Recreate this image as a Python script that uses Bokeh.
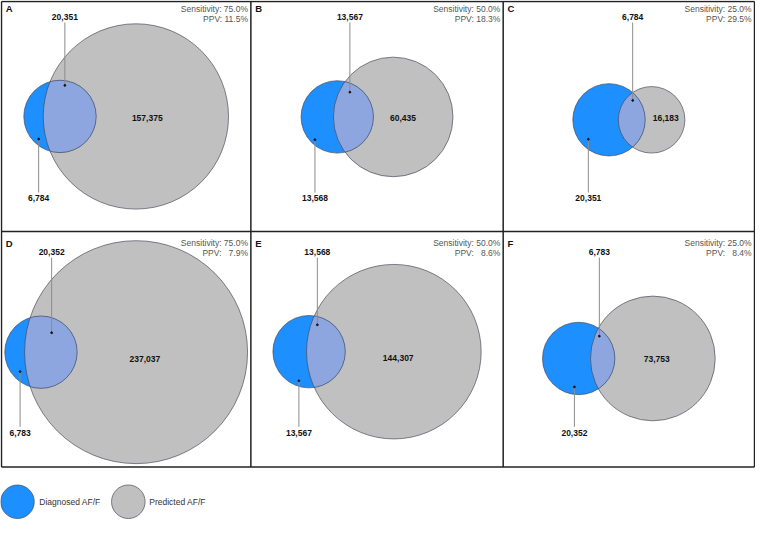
import numpy as np
from bokeh.plotting import figure
from bokeh.models import Range1d
from bokeh.core.properties import value
from bokeh.embed import file_html
from bokeh.resources import INLINE

# ---------------- data ----------------
panels = ["A", "B", "C", "D", "E", "F"]
sensitivity = ["75.0%", "50.0%", "25.0%", "75.0%", "50.0%", "25.0%"]
ppv = ["11.5%", "18.3%", "29.5%", "7.9%", "8.6%", "8.4%"]
diagnosed_only = [6784, 13568, 20351, 6783, 13567, 20352]
both = [20351, 13567, 6784, 20352, 13568, 6783]
predicted_only = [157375, 60435, 16183, 237037, 144307, 73753]
legend_labels = ["Diagnosed AF/F", "Predicted AF/F"]

# ---------------- style / layout ----------------
BLUE = "#1E8FFF"
GRAY = "#C0C0C0"
OVER = "#8EA6DF"
EDGE = "#3E4250"
FONT = value("Liberation Sans")
FS = "8.5px"

col_x = [1, 258, 518, 777]
row_y = [1, 238, 481]
panel_cy = [119.5, 120, 123, 362.5, 362, 369]
row_top_label = [16.7, 259]
row_bot_label = [204, 445.5]
row_letter = [8.5, 250.5]
row_sens = [8.3, 250]
row_ppv = [19, 260.7]
both_dot_off = [(5, -32), (13, -25.5), (24.4, -20), (11, -20), (8.5, -27.7), (21.3, -23)]
diag_dot_off = [(-22, 23.3), (-23, 23.5), (-21.3, 20), (-21.5, 20), (-10.5, 30), (-4.4, 29.3)]
pred_lab_off = [(11.7, 1.4), (10, 1), (14.5, -2), (9, 7), (4.5, 7), (4, 0.7)]
R_BLUE = 37.3

p = figure(width=755, height=519, x_range=Range1d(0, 778), y_range=Range1d(535, 0),
           output_backend="svg", toolbar_location=None, min_border=0,
           x_axis_location=None, y_axis_location=None)
p.grid.visible = False
p.outline_line_color = None
p.background_fill_color = "white"
p.border_fill_color = "white"


def lens_area(d, r1, r2):
    a1 = np.arccos(np.clip((d * d + r1 * r1 - r2 * r2) / (2 * d * r1), -1, 1))
    a2 = np.arccos(np.clip((d * d + r2 * r2 - r1 * r1) / (2 * d * r2), -1, 1))
    k = (-d + r1 + r2) * (d + r1 - r2) * (d - r1 + r2) * (d + r1 + r2)
    return r1 * r1 * a1 + r2 * r2 * a2 - 0.5 * np.sqrt(max(k, 0))


def solve_d(r1, r2, target):
    lo, hi = abs(r2 - r1) + 1e-6, r1 + r2 - 1e-6
    for _ in range(80):
        mid = 0.5 * (lo + hi)
        if lens_area(mid, r1, r2) > target:
            lo = mid
        else:
            hi = mid
    return 0.5 * (lo + hi)


bx, by, br, gx, gy, gr = [], [], [], [], [], []
lens_xs, lens_ys = [], []
texts_b = {"x": [], "y": [], "t": []}
lines_xs, lines_ys = [], []
dots_x, dots_y = [], []
letters = {"x": [], "y": [], "t": []}
sens = {"x": [], "y": [], "t": []}

for i in range(6):
    r, c = divmod(i, 3)
    left, right = col_x[c], col_x[c + 1]
    blue_total = diagnosed_only[i] + both[i]
    gray_total = predicted_only[i] + both[i]
    r1 = R_BLUE
    r2 = R_BLUE * np.sqrt(gray_total / blue_total)
    d = solve_d(r1, r2, both[i] / blue_total * np.pi * r1 * r1)
    xmin = min(-r1, d - r2)
    xmax = max(r1, d + r2)
    x1 = 0.5 * (left + right) - 0.5 * (xmin + xmax)
    x2 = x1 + d
    cy = panel_cy[i]
    bx.append(x1); by.append(cy); br.append(r1)
    gx.append(x2); gy.append(cy); gr.append(r2)
    # lens
    a = (d * d + r1 * r1 - r2 * r2) / (2 * d)
    h = np.sqrt(r1 * r1 - a * a)
    t1 = np.arctan2(h, a)
    t2 = np.arctan2(h, d - a)
    s1 = np.linspace(-t1, t1, 80)
    s2 = np.linspace(np.pi - t2, np.pi + t2, 80)
    lx = np.concatenate([x1 + r1 * np.cos(s1), x2 + r2 * np.cos(s2)])
    ly = np.concatenate([cy + r1 * np.sin(s1), cy + r2 * np.sin(s2)])
    lens_xs.append(list(lx)); lens_ys.append(list(ly))
    # labels
    bdx, bdy = both_dot_off[i]
    ddx, ddy = diag_dot_off[i]
    pdx, pdy = pred_lab_off[i]
    bdot = (x1 + bdx, cy + bdy)
    ddot = (x1 + ddx, cy + ddy)
    ty = row_top_label[r]
    tb = row_bot_label[r]
    texts_b["x"] += [bdot[0], ddot[0], x2 + pdx]
    texts_b["y"] += [ty, tb, cy + pdy]
    texts_b["t"] += [f"{both[i]:,}", f"{diagnosed_only[i]:,}", f"{predicted_only[i]:,}"]
    lines_xs += [[bdot[0], bdot[0]], [ddot[0], ddot[0]]]
    lines_ys += [[ty + 6, bdot[1]], [tb - 6, ddot[1]]]
    dots_x += [bdot[0], ddot[0]]
    dots_y += [bdot[1], ddot[1]]
    letters["x"].append(left + 4.5)
    letters["y"].append(row_letter[r])
    letters["t"].append(panels[i])
    pv = ppv[i] if len(ppv[i]) == 5 else "\u00a0\u00a0" + ppv[i]
    sens["x"] += [right - 3, right - 3]
    sens["y"] += [row_sens[r], row_ppv[r]]
    sens["t"] += [f"Sensitivity: {sensitivity[i]}", f"PPV: {pv}"]

# circles: gray, blue, overlap lens, outlines
p.circle(gx, gy, radius=gr, fill_color=GRAY, line_color=None)
p.circle(bx, by, radius=br, fill_color=BLUE, line_color=None)
p.patches(lens_xs, lens_ys, fill_color=OVER, line_color=None)
p.circle(gx, gy, radius=gr, fill_color=None, line_color=EDGE, line_width=0.8, line_alpha=0.8)
p.circle(bx, by, radius=br, fill_color=None, line_color=EDGE, line_width=0.8, line_alpha=0.8)

# leader lines
p.multi_line(lines_xs, lines_ys, line_color="#8C8C8C", line_width=1)
p.scatter(dots_x, dots_y, size=1.8, color="#111111")

# panel borders
vx = [[x, x] for x in col_x]
vy = [[row_y[0], row_y[-1]] for _ in col_x]
hx = [[col_x[0], col_x[-1]] for _ in row_y]
hy = [[y, y] for y in row_y]
p.multi_line(vx + hx, vy + hy, line_color="#222222", line_width=1.5)

# texts
p.text(texts_b["x"], texts_b["y"], text=texts_b["t"], text_font=FONT, text_font_size=FS,
       text_font_style="bold", text_align="center", text_baseline="middle", text_color="#111111")
p.text(letters["x"], letters["y"], text=letters["t"], text_font=FONT, text_font_size="9.5px",
       text_font_style="bold", text_align="left", text_baseline="middle", text_color="#111111")
p.text(sens["x"], sens["y"], text=sens["t"], text_font=FONT, text_font_size=FS,
       text_align="right", text_baseline="middle", text_color="#555555")

# legend
leg_cx = [17.5, 131.7]
leg_cy = [516.7, 516.7]
p.circle(leg_cx, leg_cy, radius=[17.3, 17.3], fill_color=[BLUE, GRAY],
         line_color=EDGE, line_width=0.8, line_alpha=0.8)
p.text([40, 153.3], leg_cy, text=legend_labels, text_font=FONT, text_font_size=FS,
       text_align="left", text_baseline="middle", text_color="#333333")

open("out.html", "w").write(file_html(p, INLINE))
